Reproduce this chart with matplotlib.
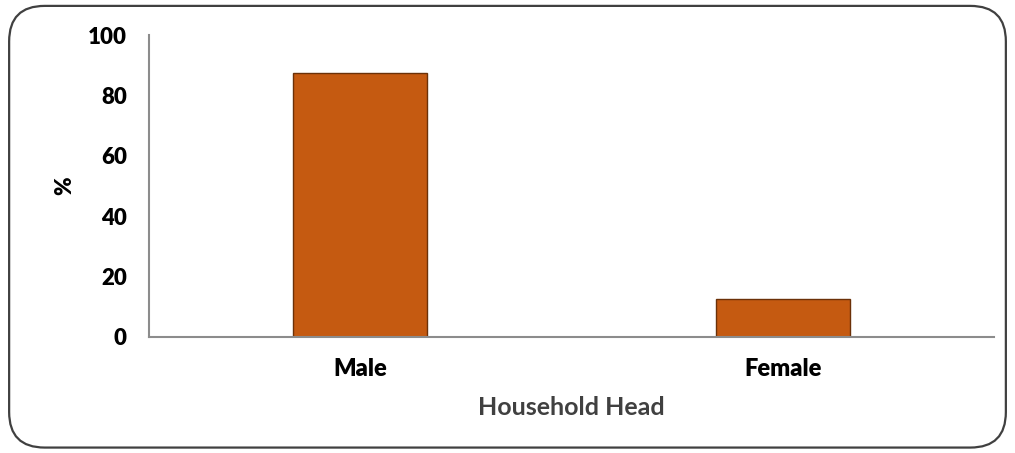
import numpy as np
import matplotlib as mpl
mpl.use("Agg")
import matplotlib.pyplot as plt
from matplotlib.patches import FancyBboxPatch

categories = ["Male", "Female"]
percent = [87.3, 12.7]
y_ticks = [0, 20, 40, 60, 80, 100]

bar_color = "#c55a11"
edge_color = "#6b3108"
axis_color = "#8c8c8c"

plt.rcParams["font.family"] = ["Lato", "DejaVu Sans"]

fig = plt.figure(figsize=(10.15, 4.53), dpi=100)
ax = fig.add_axes([0.1468, 0.2561, 0.8325, 0.6666])

x = np.arange(len(categories))
ax.bar(x, percent, width=0.317, color=bar_color, edgecolor=edge_color, linewidth=1.0)

ax.set_xlim(-0.5, len(categories) - 0.5)
ax.set_ylim(0, 100)
ax.set_yticks(y_ticks)
ax.set_xticks(x)
ax.set_xticklabels(categories, fontsize=17, fontweight="heavy")
ax.set_yticklabels([str(t) for t in y_ticks], fontsize=16, fontweight="heavy")
ax.tick_params(axis="y", length=0, pad=16)
ax.tick_params(axis="x", length=0, pad=15)

for side in ["top", "right"]:
    ax.spines[side].set_visible(False)
for side in ["left", "bottom"]:
    ax.spines[side].set_color(axis_color)
    ax.spines[side].set_linewidth(1.5)

ax.set_xlabel("Household Head", fontsize=18, fontweight="bold", color="#404040", labelpad=12)
ax.set_ylabel("%", fontsize=16, fontweight="heavy", labelpad=9)

# rounded outer frame
frame = FancyBboxPatch(
    (0.009, 0.012), 0.982, 0.975,
    boxstyle="round,pad=0,rounding_size=0.035",
    transform=fig.transFigure,
    facecolor="none",
    edgecolor="#404040",
    linewidth=1.6,
    mutation_aspect=1015 / 453,
)
fig.patches.append(frame)

fig.savefig("out.png", dpi=100)
